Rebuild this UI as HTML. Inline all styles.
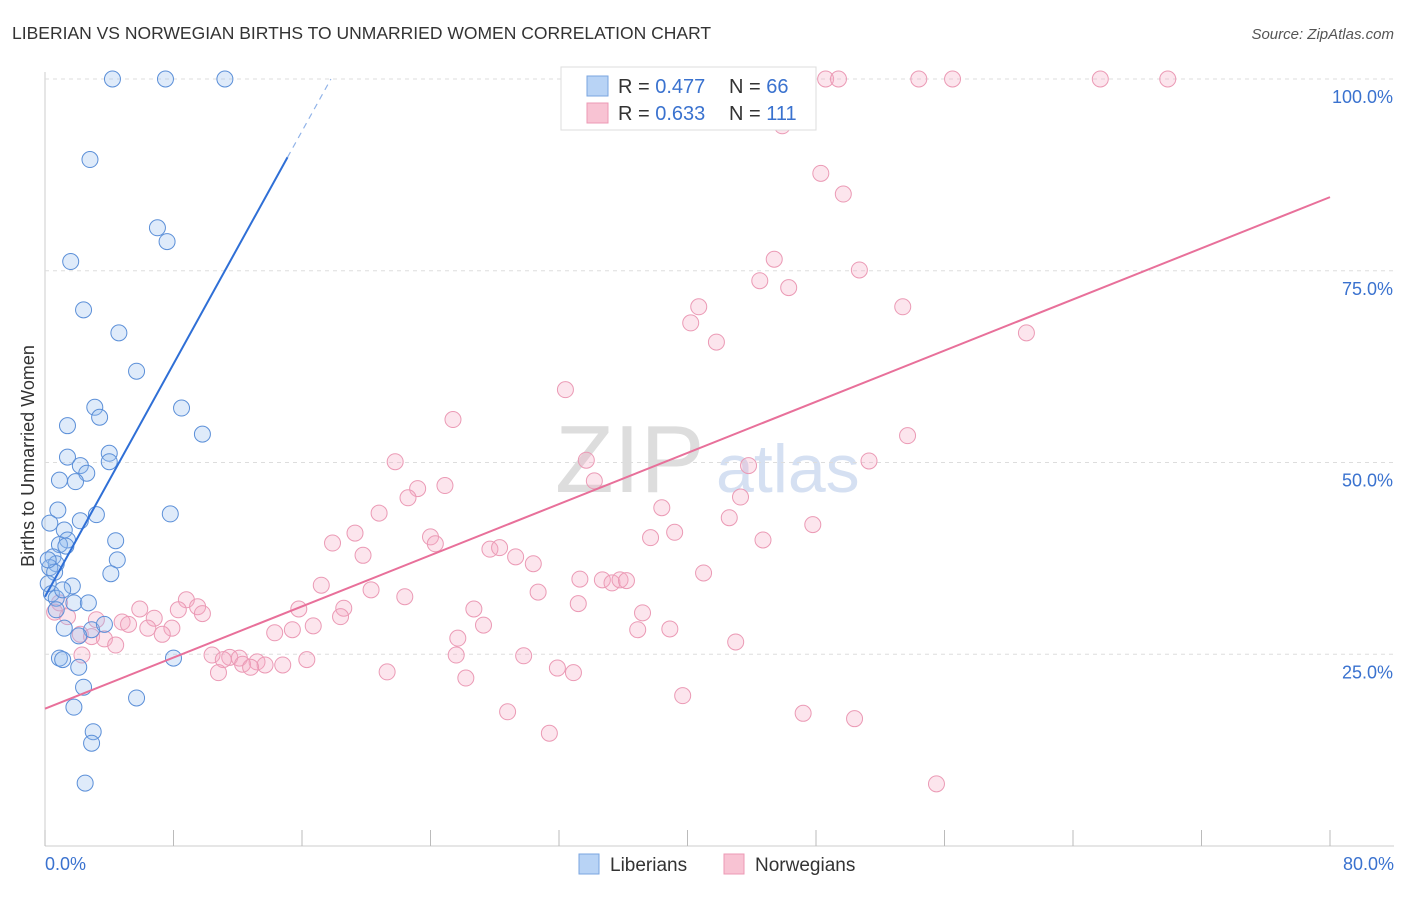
<!DOCTYPE html>
<html><head><meta charset="utf-8"><style>
body{margin:0;background:#fff;font-family:"Liberation Sans",sans-serif;}
svg text{font-family:"Liberation Sans",sans-serif;}
</style></head><body>
<svg id="chart" width="1406" height="892">
<text x="12" y="39" font-size="17.5" fill="#333">LIBERIAN VS NORWEGIAN BIRTHS TO UNMARRIED WOMEN CORRELATION CHART</text>
<text x="1394" y="39" font-size="15" fill="#555" font-style="italic" text-anchor="end">Source: ZipAtlas.com</text>
<text x="34" y="456" font-size="18" fill="#333" text-anchor="middle" transform="rotate(-90 34 456)">Births to Unmarried Women</text>
<text x="555" y="492" font-size="96" fill="#ddd" font-family="Liberation Serif">ZIP</text>
<text x="716" y="492" font-size="68" fill="#d5e0f2">atlas</text>
<g id="grid"></g><g id="pts"></g><g id="lines"></g>
<g>
<rect x="561" y="67" width="255" height="63" fill="#fff" stroke="#ddd"/>
<rect x="587" y="76" width="21" height="20" fill="#b8d3f5" stroke="#7aa6e0"/>
<rect x="587" y="103" width="21" height="20" fill="#f8c3d3" stroke="#ec9ab5"/>
<text x="618" y="93" font-size="20" fill="#333">R = <tspan fill="#3a72cf">0.477</tspan></text>
<text x="729" y="93" font-size="20" fill="#333">N = <tspan fill="#3a72cf">66</tspan></text>
<text x="618" y="120" font-size="20" fill="#333">R = <tspan fill="#3a72cf">0.633</tspan></text>
<text x="729" y="120" font-size="20" fill="#333">N = <tspan fill="#3a72cf">111</tspan></text>
</g>
<g>
<rect x="579" y="854" width="20" height="20" fill="#b8d3f5" stroke="#7aa6e0"/>
<text x="610" y="871" font-size="19" fill="#333">Liberians</text>
<rect x="724" y="854" width="20" height="20" fill="#f8c3d3" stroke="#ec9ab5"/>
<text x="755" y="871" font-size="19" fill="#333">Norwegians</text>
</g>
</svg>
<script>
const xTicks=[0,8,16,24,32,40,48,56,64,72,80];
const yTicks=[25,50,75,100];
const blueX=[4.2,7.5,11.2,2.8,7.0,7.6,1.6,2.4,4.6,5.7,3.1,3.4,8.5,1.4,9.8,4.0,4.0,1.4,2.2,2.6,1.9,0.9,0.8,3.2,2.2,7.8,0.3,1.2,1.4,0.9,4.4,4.5,0.5,0.7,0.3,0.6,4.1,1.7,0.2,0.4,0.7,1.8,2.7,0.7,1.2,2.9,3.7,2.1,0.9,1.1,2.1,8.0,2.4,5.7,1.8,3.0,2.9,2.5,0.2,1.3,1.1];
const blueY=[100,100,100,89.5,80.6,78.8,76.2,69.9,66.9,61.9,57.2,55.9,57.1,54.8,53.7,51.2,50.1,50.7,49.6,48.6,47.5,47.7,43.8,43.2,42.4,43.3,42.1,41.2,39.9,39.3,39.8,37.3,37.7,36.8,36.3,35.7,35.5,33.9,34.2,32.9,32.3,31.7,31.7,30.8,28.4,28.2,28.9,27.4,24.5,24.3,23.3,24.5,20.7,19.3,18.1,14.9,13.4,8.2,37.3,39.1,33.4];
const pinkX=[47.0,48.6,49.4,54.4,56.5,65.7,69.9,45.9,48.3,49.7,45.4,50.7,44.5,46.3,40.7,53.4,40.2,41.8,61.1,32.4,25.4,53.7,21.8,33.7,43.8,51.3,34.2,23.2,24.9,22.6,43.3,38.4,20.8,42.6,47.8,19.3,24.0,24.3,17.9,37.7,39.2,44.7,19.8,27.7,28.3,29.3,30.4,17.2,20.3,33.3,34.7,35.3,35.8,36.2,41.0,30.7,22.4,8.8,9.5,15.8,18.6,26.7,33.2,5.9,6.8,8.3,9.8,18.4,37.2,0.9,1.4,3.2,4.8,5.2,6.4,7.9,25.7,14.3,16.7,15.4,27.3,36.9,38.9,2.2,2.9,3.7,4.4,7.3,43.0,10.4,11.5,12.1,11.1,13.2,12.3,13.7,14.8,16.3,12.8,10.8,21.3,25.6,29.8,31.9,32.9,26.2,39.7,28.8,47.2,50.4,31.4,55.5,2.3,0.6];
const pinkY=[100,100,100,100,100,100,100,93.9,87.7,85.0,76.5,75.1,73.7,72.8,70.3,70.3,68.2,65.7,66.9,59.5,55.6,53.5,50.1,50.3,49.6,50.2,47.6,46.6,47.0,45.4,45.5,44.1,43.4,42.8,41.9,40.8,40.3,39.4,39.5,40.2,40.9,39.9,37.9,38.7,38.9,37.7,36.8,34.0,33.4,34.8,34.7,34.3,34.7,34.6,35.6,33.1,32.5,32.1,31.2,30.9,31.0,30.9,31.6,30.9,29.7,30.8,30.3,29.9,30.4,31.7,29.9,29.5,29.2,28.9,28.4,28.4,27.1,27.8,28.7,28.2,28.8,28.2,28.3,27.6,27.3,27.0,26.2,27.6,26.6,24.9,24.6,24.5,24.3,24.0,23.7,23.6,23.6,24.3,23.3,22.6,22.7,24.9,24.8,23.2,22.6,21.9,19.6,17.5,17.3,16.6,14.7,8.1,24.9,30.5];
const blueTrend=[[0,32.5],[15.1,89.8],[17.8,100]];
const pinkTrend=[[0,17.9],[80,84.6]];
const NS='http://www.w3.org/2000/svg';
const X0=45,X1=1330,Y0=846,Y100=79;
const sx=v=>X0+(v/80)*(X1-X0);
const sy=v=>Y0-(v/100)*(Y0-Y100);
function mk(tag,attrs,parent){const e=document.createElementNS(NS,tag);for(const k in attrs)e.setAttribute(k,attrs[k]);parent.appendChild(e);return e;}
const grid=document.getElementById('grid');
mk('line',{x1:X0,y1:72,x2:X0,y2:846,stroke:'#ccc'},grid);
mk('line',{x1:X0,y1:846,x2:1394,y2:846,stroke:'#ccc'},grid);
yTicks.forEach(t=>{
  const l=mk('line',{x1:X0,y1:sy(t),x2:1394,y2:sy(t),stroke:'#ddd','stroke-dasharray':'4,4'},grid);
  
  
  const tx=mk('text',{x:1393,y:sy(t)+24,'font-size':18,fill:'#3a72cf','text-anchor':'end'},grid);
  tx.textContent=t.toFixed(1)+'%';
  
  
});
xTicks.forEach(t=>{
  const l=mk('line',{x1:sx(t),y1:830,x2:sx(t),y2:846,stroke:'#bbb'},grid);
  
  
});
[[0,'start',45],[80,'end',1394]].forEach(([v,a,x])=>{
  const tx=mk('text',{x:x,y:870,'font-size':18,fill:'#3a72cf','text-anchor':a},grid);
  tx.textContent=v.toFixed(1)+'%';
  
  
});
const pts=document.getElementById('pts');
pinkX.forEach((v,i)=>{
  const c=mk('circle',{cx:sx(v),cy:sy(pinkY[i]),r:8,fill:'rgba(244,170,195,0.3)',stroke:'#eb9ab5','stroke-width':1},pts);
  
  
});
blueX.forEach((v,i)=>{
  const c=mk('circle',{cx:sx(v),cy:sy(blueY[i]),r:8,fill:'rgba(150,190,240,0.3)',stroke:'#5b8fd8','stroke-width':1},pts);
  
  
});
const lines=document.getElementById('lines');
const b1=mk('line',{x1:sx(blueTrend[0][0]),y1:sy(blueTrend[0][1]),x2:sx(blueTrend[1][0]),y2:sy(blueTrend[1][1]),stroke:'#2f6fd6','stroke-width':2},lines);


const b2=mk('line',{x1:sx(blueTrend[1][0]),y1:sy(blueTrend[1][1]),x2:sx(blueTrend[2][0]),y2:sy(blueTrend[2][1]),stroke:'#8fb2e8','stroke-width':1.2,'stroke-dasharray':'6,5'},lines);


const p1=mk('line',{x1:sx(pinkTrend[0][0]),y1:sy(pinkTrend[0][1]),x2:sx(pinkTrend[1][0]),y2:sy(pinkTrend[1][1]),stroke:'#e8709a','stroke-width':2},lines);


</script>
</body></html>
